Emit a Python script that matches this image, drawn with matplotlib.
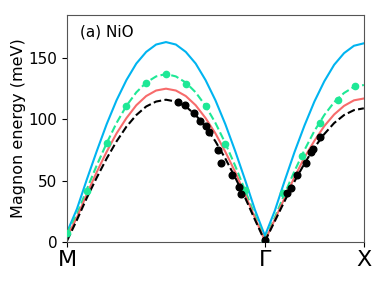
import matplotlib
matplotlib.use("Agg")
import matplotlib.pyplot as plt
import numpy as np

# path coordinates: M = 0, Gamma = 1, X = 1.5
x_mg = [0.0, 0.05, 0.1, 0.15, 0.2, 0.25, 0.3, 0.35, 0.4, 0.45, 0.5,
        0.55, 0.6, 0.65, 0.7, 0.75, 0.8, 0.85, 0.9, 0.95, 1.0]
x_gx = [1.0, 1.05, 1.1, 1.15, 1.2, 1.25, 1.3, 1.35, 1.4, 1.45, 1.5]

# calculated dispersions (meV)
blue_mg = [8, 27, 51, 74, 96, 115.5, 132, 145.5, 155, 161, 163,
           161, 155, 145.5, 132, 115.5, 96, 74, 50.5, 26, 5]
blue_gx = [5, 25.5, 50, 73.5, 95, 114.5, 131, 144.5, 154, 160, 162]
green_mg = [7, 22.5, 43, 62.5, 80.5, 97, 111, 122, 130, 135, 137,
            135, 130, 122, 111, 97, 80.5, 62, 42, 21.5, 2]
green_gx = [2, 20, 39.5, 58, 75, 90.5, 103.5, 114, 121.5, 126.5, 128]
red_mg = [4, 20, 39, 57, 73.5, 88.5, 101, 111.5, 119, 123.5, 125,
          123.5, 119, 111.5, 101, 88.5, 73.5, 57, 38.5, 19.5, 1]
red_gx = [1, 18.3, 36, 53, 69, 82.5, 94.5, 104, 111, 115.5, 117]
black_mg = [1, 18, 36, 52.5, 68, 82, 94, 103.5, 110.5, 114.5, 116,
            114.5, 110.5, 103.5, 94, 82, 68, 52.5, 36, 18, 0.5]
black_gx = [0.5, 17, 33.5, 49.5, 64, 77, 88, 97, 103.5, 107.5, 109]

# green markers
gdot_x = [0.0, 0.1, 0.2, 0.3, 0.4, 0.5, 0.6, 0.7, 0.8, 0.9, 1.0,
          1.09, 1.186, 1.276, 1.367, 1.457]
gdot_y = [7, 41.5, 80.5, 110.6, 130, 137, 129, 110.6, 80, 42, 1,
          40, 70, 97, 116, 127]

# experiment
exp_x = [0.559, 0.597, 0.643, 0.672, 0.702, 0.719, 0.765, 0.780, 0.836,
         0.869, 0.878, 1.0, 1.114, 1.131, 1.164, 1.206, 1.231, 1.245, 1.279]
exp_y = [114, 112, 105, 99, 94.6, 89.7, 74.8, 64.5, 54.5,
         45, 39, 1.5, 39.6, 44, 55, 64, 73, 75.6, 86]

tick_pos = [0, 1, 1.5]
tick_lab = ["M", "Γ", "X"]

fig = plt.figure(figsize=(3.81, 2.85), dpi=100)
ax = fig.add_axes([0.176, 0.151, 0.779, 0.796])

blue = "#00b4f0"
green = "#1ee896"
red = "#f76b6b"

for xs, bm, gm, rm, km in [(x_mg, blue_mg, green_mg, red_mg, black_mg),
                           (x_gx, blue_gx, green_gx, red_gx, black_gx)]:
    ax.plot(xs, bm, color=blue, lw=1.5)
    ax.plot(xs, gm, color=green, lw=1.5, ls="--")
    ax.plot(xs, rm, color=red, lw=1.5)
    ax.plot(xs, km, color="black", lw=1.5, ls="--")

ax.plot(gdot_x, gdot_y, "o", color=green, ms=4.5, zorder=4)
ax.plot(exp_x, exp_y, "o", color="black", ms=4.8, zorder=5)

ax.set_xlim(0, 1.5)
ax.set_ylim(0, 185)
ax.set_xticks(tick_pos)
ax.set_xticklabels(tick_lab, fontsize=16)
ax.set_yticks([0, 50, 100, 150])
ax.tick_params(axis="y", labelsize=11)
ax.tick_params(axis="x", pad=2)
ax.set_ylabel("Magnon energy (meV)", fontsize=11.5, labelpad=2)
ax.text(0.044, 0.925, "(a) NiO", transform=ax.transAxes, fontsize=11,
        va="center", ha="left")
for s in ax.spines.values():
    s.set_color("#555555")

fig.savefig("out.png", dpi=100)
